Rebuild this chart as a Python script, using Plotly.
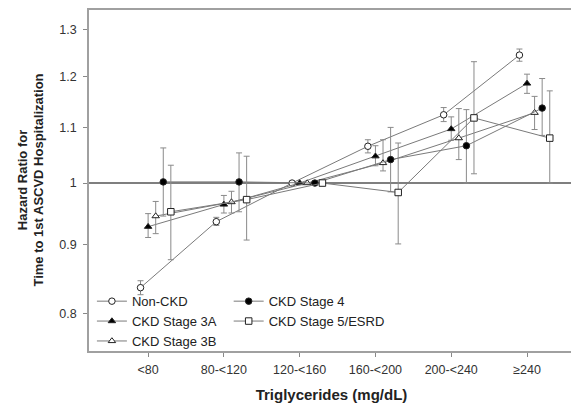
import plotly.graph_objects as go

categories = ["<80", "80-<120", "120-<160", "160-<200", "200-<240", "\u2265240"]
series_names = ["Non-CKD", "CKD Stage 3A", "CKD Stage 3B", "CKD Stage 4", "CKD Stage 5/ESRD"]

non_ckd = [0.836, 0.936, 1.0, 1.065, 1.124, 1.245]
non_ckd_lo = [0.826, 0.930, 1.0, 1.053, 1.111, 1.232]
non_ckd_hi = [0.846, 0.943, 1.0, 1.077, 1.138, 1.258]

stage3a = [0.928, 0.964, 1.0, 1.047, 1.097, 1.186]
stage3a_lo = [0.911, 0.950, 1.0, 1.030, 1.076, 1.166]
stage3a_hi = [0.949, 0.979, 1.0, 1.066, 1.120, 1.205]

stage3b = [0.945, 0.968, 1.0, 1.035, 1.080, 1.128]
stage3b_lo = [0.917, 0.950, 1.0, 1.021, 1.041, 1.096]
stage3b_hi = [0.969, 0.986, 1.0, 1.077, 1.136, 1.160]

stage4 = [1.002, 1.002, 1.0, 1.041, 1.066, 1.137]
stage4_lo = [0.945, 0.952, 1.0, 0.985, 1.000, 1.085]
stage4_hi = [1.062, 1.053, 1.0, 1.100, 1.134, 1.196]

stage5 = [0.952, 0.972, 1.0, 0.984, 1.118, 1.080]
stage5_lo = [0.877, 0.907, 1.0, 0.901, 1.016, 1.000]
stage5_hi = [1.031, 1.047, 1.0, 1.071, 1.231, 1.171]

y_tickvals = [0.8, 0.9, 1.0, 1.1, 1.2, 1.3]
y_ticktext = ["0.8", "0.9", "1", "1.1", "1.2", "1.3"]

x_title = "Triglycerides (mg/dL)"
y_title = "Hazard Ratio for<br>Time to 1st ASCVD Hospitalization"

# styling
dodge = [-0.1, 0.0, 0.1, 0.2, 0.3]
styles = [
    dict(symbol="circle", color="white"),
    dict(symbol="triangle-up", color="black"),
    dict(symbol="triangle-up", color="white"),
    dict(symbol="circle", color="black"),
    dict(symbol="square", color="white"),
]
legend_ids = ["legend", "legend", "legend", "legend2", "legend2"]

data = [
    (non_ckd, non_ckd_lo, non_ckd_hi),
    (stage3a, stage3a_lo, stage3a_hi),
    (stage3b, stage3b_lo, stage3b_hi),
    (stage4, stage4_lo, stage4_hi),
    (stage5, stage5_lo, stage5_hi),
]

fig = go.Figure()
for i, (name, (vals, lo, hi)) in enumerate(zip(series_names, data)):
    xs = [k + dodge[i] for k in range(len(categories))]
    fig.add_trace(go.Scatter(
        x=xs, y=vals, name=name, mode="lines+markers",
        line=dict(color="#7a7a7a", width=1),
        marker=dict(symbol=styles[i]["symbol"], color=styles[i]["color"], size=6.5,
                    line=dict(color="#222222", width=1)),
        error_y=dict(type="data", symmetric=False,
                     array=[h - v for h, v in zip(hi, vals)],
                     arrayminus=[v - l for v, l in zip(vals, lo)],
                     color="#8a8a8a", thickness=1, width=3),
        legend=legend_ids[i],
    ))

fig.add_hline(y=1, line=dict(color="#555555", width=1.5), layer="below")

fig.add_annotation(
    text="<b>" + y_title + "</b>", textangle=-90, xref="paper", yref="paper",
    x=-0.1216, y=0.5, xanchor="center", yanchor="middle", showarrow=False,
    font=dict(size=13, color="#222222"),
)

font_family = "Liberation Sans, Arial, sans-serif"
fig.update_layout(
    width=579, height=410,
    margin=dict(l=81, r=13, t=0, b=67),
    paper_bgcolor="white", plot_bgcolor="white",
    font=dict(family=font_family, color="#222222", size=12),
    showlegend=True,
    legend=dict(x=0.006, y=0.19, xanchor="left", yanchor="top", bgcolor="rgba(0,0,0,0)",
                font=dict(size=13, color="#222222"), tracegroupgap=0, borderwidth=0),
    legend2=dict(x=0.288, y=0.19, xanchor="left", yanchor="top", bgcolor="rgba(0,0,0,0)",
                 font=dict(size=13, color="#222222"), tracegroupgap=0, borderwidth=0),
    xaxis=dict(
        range=[-0.78, 5.62], tickmode="array", tickvals=list(range(len(categories))),
        ticktext=categories, ticks="outside", ticklen=4, tickcolor="#888888",
        showline=True, linecolor="#a0a0a0", linewidth=1.5, mirror=True,
        showgrid=False, zeroline=False, tickfont=dict(size=12.5, color="#333333"),
        ticklabelstandoff=2,
        title=dict(text="<b>" + x_title + "</b>", font=dict(size=15, color="#222222"), standoff=14),
    ),
    yaxis=dict(
        type="log", range=[-0.1249, 0.1287], tickmode="array", tickvals=y_tickvals,
        ticktext=y_ticktext, ticks="outside", ticklen=4, tickcolor="#888888",
        showline=True, linecolor="#a0a0a0", linewidth=1.5, mirror=True,
        showgrid=False, zeroline=False, tickfont=dict(size=12.5, color="#333333"),
        ticklabelstandoff=4,
    ),
)

fig.write_html("out.html")
